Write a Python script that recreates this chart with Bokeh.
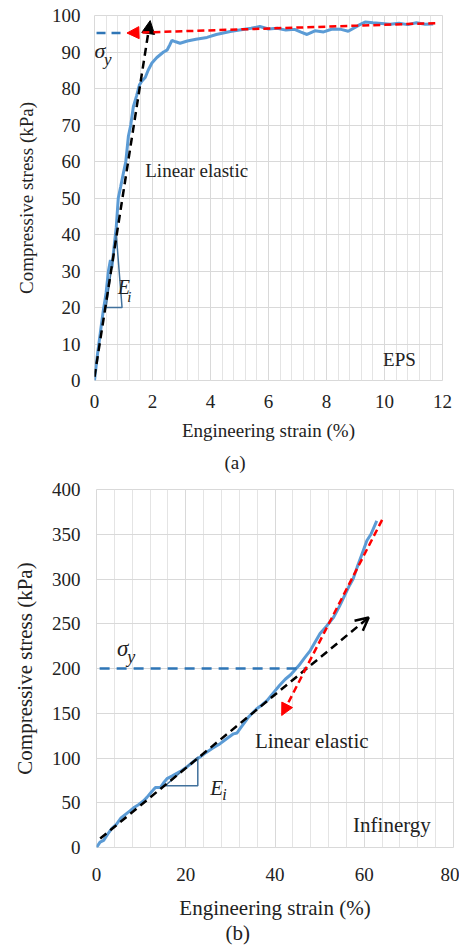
from bokeh.plotting import figure
from bokeh.models import (Range1d, SingleIntervalTicker, Label, Title, Arrow,
                          NormalHead, OpenHead)
from bokeh.embed import file_html
from bokeh.resources import INLINE

FONT = "'Liberation Serif', 'Times New Roman', 'DejaVu Serif', serif"

# ---------------- Panel (a): EPS ----------------
strain_a = [0, 0.1, 0.2, 0.3, 0.4, 0.48, 0.55, 0.6, 0.68, 0.75, 0.82, 0.9, 1.0,
            1.08, 1.17, 1.25, 1.34, 1.45, 1.55, 1.63, 1.75, 1.85, 1.98, 2.15,
            2.38, 2.5, 2.6, 2.67, 2.8, 2.95, 3.2, 3.5, 3.88, 4.2, 4.68, 5.0,
            5.4, 5.7, 6.0, 6.3, 6.6, 6.9, 7.1, 7.33, 7.6, 7.9, 8.2, 8.5, 8.75,
            9.0, 9.15, 9.33, 9.6, 9.9, 10.2, 10.5, 10.8, 11.1, 11.4, 11.68]
stress_a = [0, 7, 13, 19, 24, 30, 33, 31, 37, 42, 50, 53, 57,
            60, 67, 70, 75, 78, 81, 82, 83, 85, 87, 88.5,
            90, 90.5, 92, 93.2, 92.8, 92.4, 93, 93.5, 94, 94.8, 95.6, 96,
            96.5, 97, 96.3, 96.5, 96, 96.2, 95.5, 94.8, 95.8, 95.5, 96.3, 96.2, 95.7,
            96.8, 97.5, 98.2, 98, 97.8, 97.6, 97.9, 97.5, 98, 97.6, 97.7]
tri_a_x = [0.4, 0.95, 0.75, 0.4]
tri_a_y = [20, 20, 40, 20]
sigy_a_x = [0.07, 1.1]
sigy_a_y = [95.2, 95.2]
black_a = [0.0, 1.0, 1.92, 98.6]     # x_start, y_start, x_end, y_end
red_a = [11.75, 97.9, 1.12, 95.2]

# ---------------- Panel (b): Infinergy ----------------
strain_b = [0, 0.8, 1.6, 2.5, 3.4, 4.5, 5.5, 6.5, 7.5, 8.5, 9.5, 10.5, 11.3,
            12.3, 13.2, 14.3, 15.0, 15.8, 17.0, 18.0, 19.1, 20.0, 21.0, 22.0,
            23.2, 24.5, 26.0, 27.7, 29.0, 30.7, 31.5, 32.5, 34.1, 35.9, 37.0,
            38.2, 40.0, 41.0, 42.3, 43.5, 45.3, 46.5, 47.9, 50.1, 51.5, 53.1,
            54.5, 56.5, 57.5, 58.4, 59.5, 60.6, 61.5, 62.8]
stress_b = [0, 6, 8, 15, 21, 26, 33, 37, 41, 45, 48, 52, 56,
            62, 67, 67, 72, 77, 80, 83, 86, 89, 93, 97,
            101, 106, 111, 116, 121, 127, 128, 135, 146, 155, 159,
            164, 175, 181, 188, 193, 203, 211, 220, 239, 247, 257,
            270, 291, 300, 313, 328, 343, 350, 365]
tri_b_x = [15.4, 22.7, 22.7, 15.4]
tri_b_y = [69, 69, 101, 69]
sigy_b_x = [0.7, 47.1]
sigy_b_y = [200, 200]
black_b = [0.83, 10, 61.0, 257]
red_b = [64.0, 366, 41.5, 147.5]

BLUE = "#5B9BD5"
TRI = "#41719C"
SIGBLUE = "#2E75B6"
GRID = "#d9d9d9"
TXT = "#222222"


def base(height, xr, yr, xint, yint, nminor, bl, br, bt, bb, fs_tick, fs_lab):
    p = figure(width=459, height=height, x_range=Range1d(*xr), y_range=Range1d(*yr),
               output_backend="svg", toolbar_location=None,
               min_border_left=bl, min_border_right=br, min_border_top=bt,
               min_border_bottom=bb)
    p.xaxis.ticker = SingleIntervalTicker(interval=xint, num_minor_ticks=nminor)
    p.yaxis.ticker = SingleIntervalTicker(interval=yint, num_minor_ticks=0)
    p.xgrid.grid_line_color = GRID
    p.xgrid.minor_grid_line_color = "#e4e4e4"
    p.ygrid.grid_line_color = GRID
    p.outline_line_color = GRID
    for ax in (p.xaxis, p.yaxis):
        ax.axis_line_color = None
        ax.major_tick_line_color = None
        ax.minor_tick_line_color = None
        ax.major_tick_out = 0
        ax.major_tick_in = 0
        ax.minor_tick_out = 0
        ax.minor_tick_in = 0
        ax.major_label_text_font = FONT
        ax.major_label_text_font_size = fs_tick
        ax.major_label_text_color = TXT
        ax.axis_label_text_font = FONT
        ax.axis_label_text_font_size = fs_lab
        ax.axis_label_text_font_style = "normal"
        ax.axis_label_text_color = TXT
    p.xaxis.axis_label = "Engineering strain (%)"
    p.yaxis.axis_label = "Compressive stress (kPa)"
    return p


def lbl(p, x, y, text, size, italic=False):
    p.add_layout(Label(x=x, y=y, text=text, text_font=FONT, text_font_size=size,
                       text_baseline="middle", text_align="left", text_color=TXT,
                       text_font_style="italic" if italic else "normal"))


# ---- panel a ----
pa = base(478, (0, 12), (0, 100), 2, 10, 5, 94, 17, 15, 98, "19px", "19px")
pa.xaxis.major_label_standoff = 14
pa.yaxis.major_label_standoff = 14
pa.xaxis.axis_label_standoff = 9
pa.yaxis.axis_label_standoff = 12
pa.line(strain_a, stress_a, line_color=BLUE, line_width=3)
pa.line(tri_a_x, tri_a_y, line_color=TRI, line_width=1.5)
pa.line(sigy_a_x, sigy_a_y, line_color=SIGBLUE, line_width=2.5, line_dash="9 6")
pa.add_layout(Arrow(end=NormalHead(size=13, fill_color="black", line_color="black"),
                    x_start=black_a[0], y_start=black_a[1], x_end=black_a[2], y_end=black_a[3],
                    line_color="black", line_width=2.5, line_dash="8 5"))
pa.add_layout(Arrow(end=NormalHead(size=12, fill_color="red", line_color="red"),
                    x_start=red_a[0], y_start=red_a[1], x_end=red_a[2], y_end=red_a[3],
                    line_color="red", line_width=2.5, line_dash="7 4"))
lbl(pa, 1.75, 57.5, "Linear elastic", "19px")
lbl(pa, 9.95, 5.7, "EPS", "19px")
lbl(pa, 0.0, 90.5, "σ", "22px", italic=True)
lbl(pa, 0.33, 88.0, "y", "17px", italic=True)
lbl(pa, 0.8, 25.5, "E", "20px", italic=True)
lbl(pa, 1.13, 23.0, "i", "15px", italic=True)
pa.add_layout(Title(text="(a)", align="left", offset=130, standoff=12, text_font=FONT,
                    text_font_size="19px", text_font_style="normal", text_color=TXT),
              "below")

# ---- panel b ----
pb = base(469, (0, 80), (0, 400), 20, 50, 5, 96, 6, 11, 100, "19px", "21px")
pb.xaxis.major_label_standoff = 20
pb.yaxis.major_label_standoff = 16
pb.xaxis.axis_label_standoff = 12
pb.yaxis.axis_label_standoff = 12
pb.line(strain_b, stress_b, line_color=BLUE, line_width=3)
pb.line(tri_b_x, tri_b_y, line_color=TRI, line_width=1.5)
pb.line(sigy_b_x, sigy_b_y, line_color=SIGBLUE, line_width=2.5, line_dash="10 7")
pb.add_layout(Arrow(end=OpenHead(size=13, line_color="black", line_width=2.5),
                    x_start=black_b[0], y_start=black_b[1], x_end=black_b[2], y_end=black_b[3],
                    line_color="black", line_width=2.5, line_dash="8 5"))
pb.add_layout(Arrow(end=NormalHead(size=12, fill_color="red", line_color="red"),
                    x_start=red_b[0], y_start=red_b[1], x_end=red_b[2], y_end=red_b[3],
                    line_color="red", line_width=2.5, line_dash="7 4"))
lbl(pb, 35.5, 119.5, "Linear elastic", "21px")
lbl(pb, 57.5, 24.6, "Infinergy", "21px")
lbl(pb, 4.6, 222, "σ", "23px", italic=True)
lbl(pb, 6.9, 213, "y", "18px", italic=True)
lbl(pb, 25.5, 67, "E", "21px", italic=True)
lbl(pb, 28.2, 59, "i", "16px", italic=True)
pb.add_layout(Title(text="(b)", align="left", offset=129, standoff=-7, text_font=FONT,
                    text_font_size="21px", text_font_style="normal", text_color=TXT),
              "below")

open("out.html", "w").write(file_html([pa, pb], INLINE))
